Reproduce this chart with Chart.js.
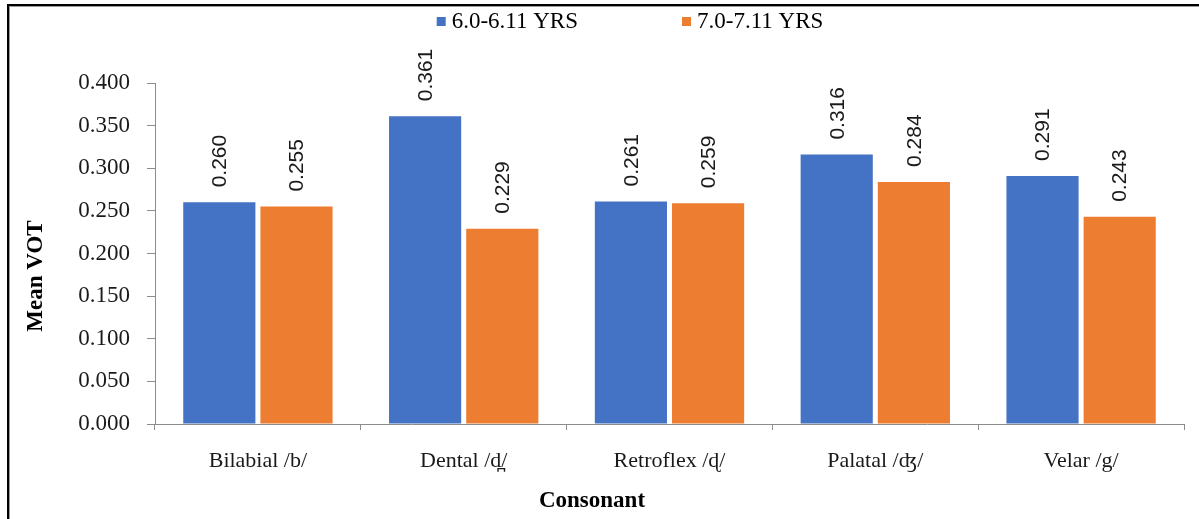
<!DOCTYPE html>
<html>
<head>
<meta charset="utf-8">
<script src="https://cdn.jsdelivr.net/npm/chart.js@4.4.1/dist/chart.umd.min.js"></script>
<style>
  html, body { margin: 0; padding: 0; background: #fff; overflow: hidden; }
  #wrap { position: relative; width: 1199px; height: 519px; }
  #frame {
    position: absolute; left: 7px; top: 4px; width: 1300px; height: 700px;
    border-top: 2px solid #000; border-left: 2px solid #000;
    box-shadow: inset 1px 1px 0 #9a9a9a; pointer-events: none;
  }
</style>
</head>
<body>
<div id="wrap">
  <canvas id="c" width="1199" height="519"></canvas>
  <div id="frame"></div>
</div>
<script>
// Consonant places and mean voice onset time per age group
const categories = ['Bilabial /b/', 'Dental /d\u032A/', 'Retroflex /\u0256/', 'Palatal /\u02A4/', 'Velar /g/'];
const seriesNames = ['6.0-6.11 YRS', '7.0-7.11 YRS'];
const age6Values = [0.260, 0.361, 0.261, 0.316, 0.291];
const age7Values = [0.255, 0.229, 0.259, 0.284, 0.243];
const yTickValues = [0, 0.05, 0.10, 0.15, 0.20, 0.25, 0.30, 0.35, 0.40];
const xTitle = 'Consonant';
const yTitle = 'Mean VOT';

const SERIF = '"Liberation Serif", "Times New Roman", "DejaVu Serif", serif';
const SANS = '"Liberation Sans", Arial, sans-serif';
const TEXT = '#1a1a1a';
const AXIS = '#8c8c8c';

// Rotated value labels above each bar
const barValues = {
  id: 'barValues',
  afterDatasetsDraw(chart) {
    const ctx = chart.ctx;
    ctx.save();
    ctx.font = '21px ' + SANS;
    ctx.fillStyle = TEXT;
    ctx.textAlign = 'left';
    ctx.textBaseline = 'middle';
    chart.data.datasets.forEach((ds, di) => {
      chart.getDatasetMeta(di).data.forEach((bar, i) => {
        ctx.save();
        ctx.translate(bar.x, bar.y - 15);
        ctx.rotate(-Math.PI / 2);
        ctx.fillText(ds.data[i].toFixed(3), 0, 1);
        ctx.restore();
      });
    });
    ctx.restore();
  }
};

// Legend row at the top and the two axis titles
const chartText = {
  id: 'chartText',
  afterDraw(chart) {
    const ctx = chart.ctx;
    ctx.save();
    ctx.font = '23px ' + SERIF;
    ctx.textAlign = 'left';
    ctx.textBaseline = 'alphabetic';
    const box = 9, gapText = 6, gapItem = 104;
    const items = chart.data.datasets.map(d => ({
      text: d.label, color: d.backgroundColor, w: ctx.measureText(d.label).width
    }));
    const total = items.reduce((s, it) => s + box + gapText + it.w, 0) + gapItem * (items.length - 1);
    let x = 630 - total / 2;
    items.forEach(it => {
      ctx.fillStyle = it.color;
      ctx.fillRect(x, 17, box, box);
      x += box + gapText;
      ctx.fillStyle = '#000';
      ctx.fillText(it.text, x, 28);
      x += it.w + gapItem;
    });

    ctx.font = 'bold 23px ' + SERIF;
    ctx.fillStyle = '#000';
    ctx.textAlign = 'center';
    ctx.fillText(xTitle, 592, 507);

    ctx.translate(42, 276);
    ctx.rotate(-Math.PI / 2);
    ctx.fillText(yTitle, 0, 0);
    ctx.restore();
  }
};

new Chart(document.getElementById('c'), {
  type: 'bar',
  data: {
    labels: categories,
    datasets: [
      { label: seriesNames[0], data: age6Values, backgroundColor: '#4472C4',
        categoryPercentage: 0.75, barPercentage: 0.935 },
      { label: seriesNames[1], data: age7Values, backgroundColor: '#ED7D31',
        categoryPercentage: 0.75, barPercentage: 0.935 }
    ]
  },
  options: {
    responsive: false,
    animation: false,
    devicePixelRatio: 1,
    layout: { padding: { top: 83, right: 15, bottom: 0, left: 0 } },
    plugins: { legend: { display: false }, tooltip: { enabled: false } },
    scales: {
      x: {
        grid: { offset: true, drawOnChartArea: false, drawTicks: true, tickLength: 6, color: AXIS },
        border: { color: AXIS, width: 1 },
        ticks: { font: { family: SERIF, size: 22 }, color: TEXT, padding: 18, maxRotation: 0 },
        afterFit(scale) { scale.height = 95; }
      },
      y: {
        min: 0, max: 0.4,
        afterBuildTicks(scale) { scale.ticks = yTickValues.map(v => ({ value: v })); },
        grid: { drawOnChartArea: false, drawTicks: true, tickLength: 8, color: AXIS },
        border: { color: AXIS, width: 1 },
        ticks: { font: { family: SERIF, size: 23 }, color: TEXT, padding: 17,
                 callback: v => Number(v).toFixed(3) },
        afterFit(scale) { scale.width = 155; }
      }
    }
  },
  plugins: [barValues, chartText]
});
</script>
</body>
</html>
